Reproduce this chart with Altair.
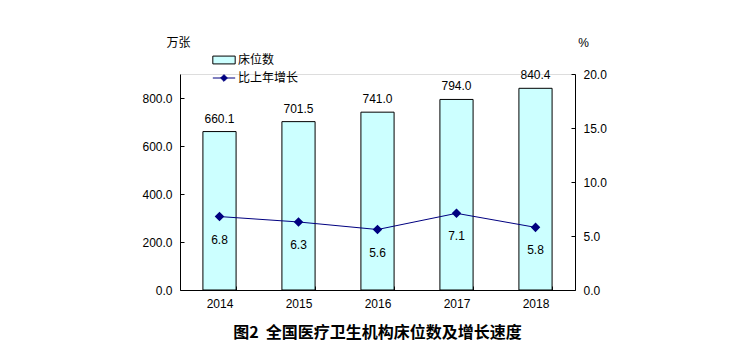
import altair as alt
import pandas as pd

years = ["2014", "2015", "2016", "2017", "2018"]
beds = [660.1, 701.5, 741.0, 794.0, 840.4]
growth = [6.8, 6.3, 5.6, 7.1, 5.8]

df = pd.DataFrame({"year": years, "beds": beds, "growth": growth})
df["bar_name"] = "床位数"
df["line_name"] = "比上年增长"

FONT = "Liberation Sans, Arial, Noto Sans CJK SC"
CJK = "Noto Sans CJK SC"

x = alt.X(
    "year:N",
    title=None,
    scale=alt.Scale(paddingInner=0.58, paddingOuter=0.29),
    axis=alt.Axis(
        labelAngle=0,
        tickBand="extent",
        tickSize=alt.ExprRef(expr="-4"),
        labelPadding=12,
        labelFont=FONT,
        labelFontSize=12,
        labelColor="black",
        domainColor="black",
        tickColor="black",
        grid=False,
    ),
)

bars = alt.Chart(df).mark_bar(stroke="black", strokeWidth=1).encode(
    x=x,
    y=alt.Y(
        "beds:Q",
        scale=alt.Scale(domain=[0, 900], nice=False),
        axis=alt.Axis(
            values=[0, 200, 400, 600, 800],
            format=".1f",
            title="万张",
            titleAngle=0,
            titleX=-2,
            titleY=-32,
            titleAlign="center",
            titleBaseline="middle",
            titleFont=CJK,
            titleFontSize=12,
            titleFontWeight="normal",
            titleColor="black",
            tickSize=alt.ExprRef(expr="-4"),
            labelPadding=12,
            labelFont=FONT,
            labelFontSize=12,
            labelColor="black",
            domainColor="black",
            tickColor="black",
            grid=False,
        ),
    ),
    fill=alt.Fill(
        "bar_name:N",
        scale=alt.Scale(range=["#CCFFFF"]),
        legend=alt.Legend(
            title=None,
            orient="none",
            legendX=32,
            legendY=-26,
            symbolType="M-1,-0.35H1V0.35H-1Z",
            symbolSize=500,
            symbolStrokeColor="black",
            symbolStrokeWidth=1,
            labelFont=CJK,
            labelFontSize=12,
            labelColor="black",
            labelOffset=2,
        ),
    ),
)

bar_text = alt.Chart(df).mark_text(
    dy=-13, baseline="middle", font=FONT, fontSize=12, color="black"
).encode(
    x=alt.X("year:N"),
    y=alt.Y("beds:Q", scale=alt.Scale(domain=[0, 900], nice=False)),
    text=alt.Text("beds:Q", format=".1f"),
)

left = alt.layer(bars, bar_text)

line = alt.Chart(df).mark_line(
    strokeWidth=1,
    point=alt.OverlayMarkDef(shape="diamond", size=45, filled=True, color="#000080"),
).encode(
    x=alt.X("year:N"),
    y=alt.Y(
        "growth:Q",
        scale=alt.Scale(domain=[0, 20], nice=False),
        axis=alt.Axis(
            orient="right",
            values=[0, 5, 10, 15, 20],
            format=".1f",
            title="%",
            titleAngle=0,
            titleX=8,
            titleY=-32,
            titleAlign="center",
            titleBaseline="middle",
            titleFont=FONT,
            titleFontSize=12,
            titleFontWeight="normal",
            titleColor="black",
            tickSize=alt.ExprRef(expr="-4"),
            labelPadding=12,
            labelFont=FONT,
            labelFontSize=12,
            labelColor="black",
            domainColor="black",
            tickColor="black",
            grid=False,
        ),
    ),
    stroke=alt.Stroke(
        "line_name:N",
        scale=alt.Scale(range=["#000080"]),
        legend=alt.Legend(
            title=None,
            orient="none",
            legendX=32,
            legendY=-8,
            symbolType="M-1,0H1M0,-0.3L0.3,0L0,0.3L-0.3,0Z",
            symbolSize=500,
            symbolFillColor="#000080",
            symbolStrokeWidth=1,
            labelFont=CJK,
            labelFontSize=12,
            labelColor="black",
            labelOffset=2,
        ),
    ),
)

line_text = alt.Chart(df).mark_text(
    dy=23, baseline="middle", font=FONT, fontSize=12, color="black"
).encode(
    x=alt.X("year:N"),
    y=alt.Y("growth:Q", scale=alt.Scale(domain=[0, 20], nice=False)),
    text=alt.Text("growth:Q", format=".1f"),
)

right = alt.layer(line, line_text)

chart = (
    alt.layer(left, right)
    .resolve_scale(y="independent", fill="independent", stroke="independent")
    .properties(
        width=395,
        height=216,
        autosize=alt.AutoSizeParams(type="none"),
        padding={"left": 180, "top": 74, "right": 174, "bottom": 66},
        title=alt.TitleParams(
            "图2\u00a0\u00a0全国医疗卫生机构床位数及增长速度",
            orient="bottom",
            anchor="middle",
            font=CJK,
            fontSize=16,
            fontWeight="bold",
            color="black",
            offset=16,
        ),
    )
    .configure_view(stroke=None)
    .configure(background="white")
)

chart.save("out.html", embed_options={"renderer": "svg", "actions": False})
